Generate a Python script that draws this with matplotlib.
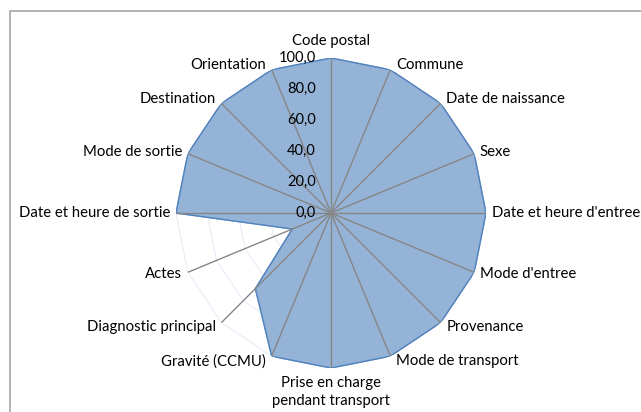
import numpy as np
import matplotlib
matplotlib.use("Agg")
import matplotlib.pyplot as plt
from matplotlib.patches import Rectangle

plt.rcParams['font.family'] = ['Lato', 'DejaVu Sans']

categories = ["Code postal", "Commune", "Date de naissance", "Sexe",
              "Date et heure d'entree", "Mode d'entree", "Provenance",
              "Mode de transport", "Prise en charge\npendant transport",
              "Gravité (CCMU)", "Diagnostic principal", "Actes",
              "Date et heure de sortie", "Mode de sortie", "Destination",
              "Orientation"]
values = [100, 100, 100, 100, 100, 100, 100, 100, 100, 100, 69, 27,
          100, 100, 100, 100]
ticks = [0, 20, 40, 60, 80, 100]
tick_labels = ["0,0", "20,0", "40,0", "60,0", "80,0", "100,0"]

W, H = 641, 412
fig = plt.figure(figsize=(W / 100, H / 100), dpi=100)

# chart area border (cropped on right/bottom)
fig.patches.append(Rectangle((10 / W, -0.05), 1.2, (H - 11) / H + 0.05,
                             transform=fig.transFigure, fill=False,
                             edgecolor='#a6a6a6', linewidth=1.2))

cx, cy, R = 331, 213, 155
ax = fig.add_axes([(cx - R) / W, (H - cy - R) / H, 2 * R / W, 2 * R / H],
                  projection='polar')
ax.set_theta_zero_location('N')
ax.set_theta_direction(-1)
ax.set_ylim(0, 100)
ax.axis('off')

n = len(categories)
theta = np.arange(n) * 2 * np.pi / n
tc = np.append(theta, theta[0])

# polygon gridlines
for t in ticks[1:]:
    ax.plot(tc, [t] * (n + 1), color='#e6edf6', linewidth=0.8, zorder=1)

vc = values + values[:1]
ax.fill(tc, vc, color='#95b3d7', zorder=2)
ax.plot(tc, vc, color='#4f81bd', linewidth=1.0, zorder=3)

# spokes
for t in theta:
    ax.plot([t, t], [0, 100], color='#868686', linewidth=1.0, zorder=4)

# radial tick labels
for t, lab in zip(ticks, tick_labels):
    ax.annotate(lab, xy=(0, t), xytext=(-11, 0), textcoords='offset points',
                ha='right', va='center', fontsize=10.5, color='#000000',
                zorder=5)

# category labels
for t, lab in zip(theta, categories):
    s, c = np.sin(t), np.cos(t)
    if abs(s) < 0.01:
        ha = 'center'
        dx = 0
        if c > 0:
            va, dy = 'bottom', 7
        else:
            va, dy = 'top', -6
    else:
        ha = 'left' if s > 0 else 'right'
        dx = 4 * np.sign(s)
        va, dy = 'center', 4 * c
    ax.annotate(lab, xy=(t, 100), xytext=(dx, dy), textcoords='offset points',
                ha=ha, va=va, fontsize=10.7, color='#000000',
                multialignment='center', linespacing=1.3)

fig.savefig("out.png", dpi=100)
